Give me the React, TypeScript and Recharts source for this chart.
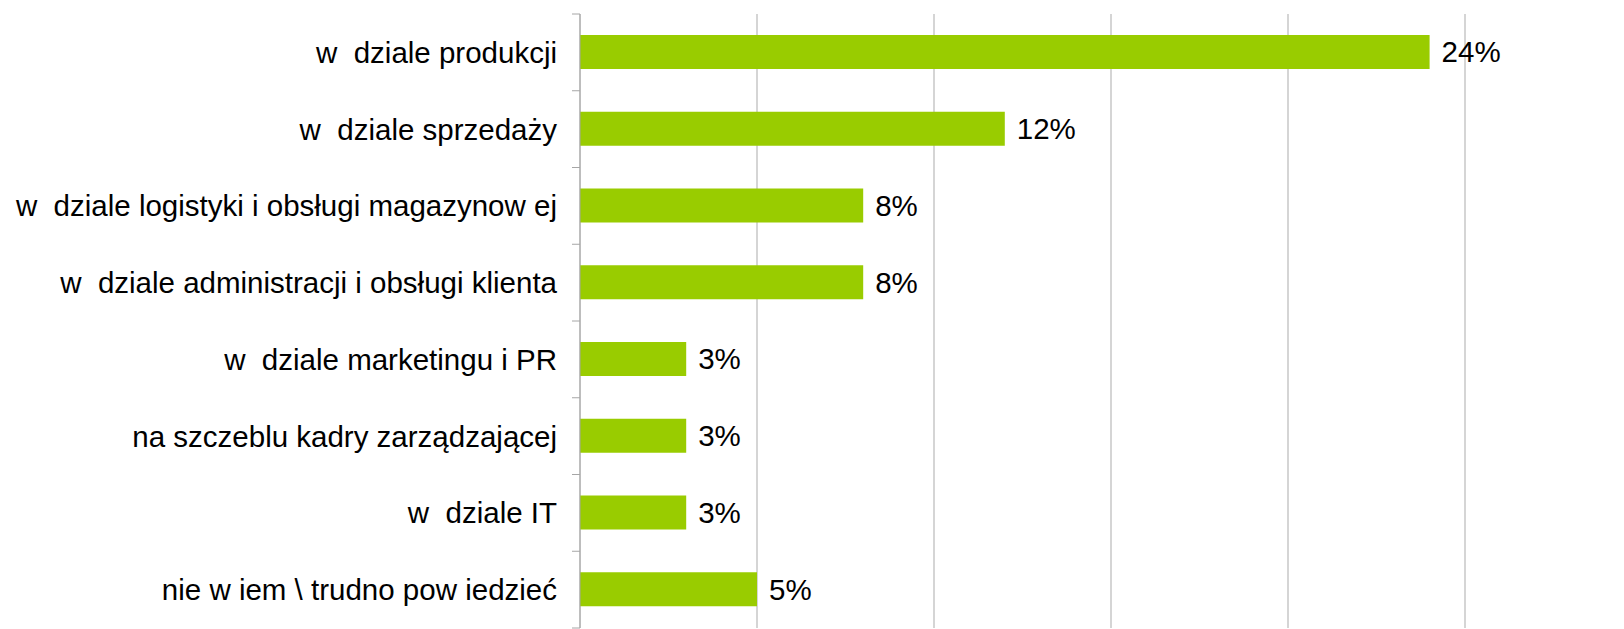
import React from "react";
import { BarChart, Bar, XAxis, YAxis, CartesianGrid, LabelList } from "recharts";

const categories = [
  "w  dziale produkcji",
  "w  dziale sprzedaży",
  "w  dziale logistyki i obsługi magazynow ej",
  "w  dziale administracji i obsługi klienta",
  "w  dziale marketingu i PR",
  "na szczeblu kadry zarządzającej",
  "w  dziale IT",
  "nie w iem \\ trudno pow iedzieć",
];
const values = [24, 12, 8, 8, 3, 3, 3, 5];
const xTicks = [0, 5, 10, 15, 20, 25];

const data = categories.map((name, i) => ({ name, value: values[i] }));

const FONT = "'Liberation Sans', Arial, sans-serif";
const AXIS_COLOR = "#a6a6a6";

const CatTick = (props: any) => {
  const { x, y, payload, index, visibleTicksCount } = props;
  const half = payload && payload.offset ? payload.offset : 38.3;
  const last = index === (visibleTicksCount ?? categories.length) - 1;
  return (
    <g>
      <text
        x={x}
        y={y}
        textAnchor="end"
        dominantBaseline="central"
        fill="#000"
        fontSize={29.5}
        fontFamily={FONT}
        style={{ whiteSpace: "pre" }}
      >
        {payload.value}
      </text>
      <line x1={x + 15} x2={x + 23} y1={y - half} y2={y - half} stroke={AXIS_COLOR} strokeWidth={1} />
      {last && (
        <line x1={x + 15} x2={x + 23} y1={y + half} y2={y + half} stroke={AXIS_COLOR} strokeWidth={1} />
      )}
    </g>
  );
};

export default function App() {
  return (
    <div style={{ width: 1616, height: 621 }}>
      <BarChart
        width={1616}
        height={621}
        data={data}
        layout="vertical"
        margin={{ top: 6, right: 159, bottom: 1, left: 0 }}
      >
        <CartesianGrid horizontal={false} vertical={true} stroke="#ababab" strokeWidth={1} />
        <XAxis type="number" domain={[0, 25]} ticks={xTicks} hide />
        <YAxis
          type="category"
          dataKey="name"
          width={572}
          axisLine={{ stroke: AXIS_COLOR, strokeWidth: 1 }}
          tickLine={false}
          tickSize={8}
          tickMargin={15}
          tick={<CatTick />}
          interval={0}
        />
        <Bar dataKey="value" fill="#99cc00" barSize={34} isAnimationActive={false}>
          <LabelList
            dataKey="value"
            position="right"
            offset={12}
            formatter={(v: any) => `${v}%`}
            style={{ fontSize: 29.5, fontFamily: FONT, fill: "#000" }}
          />
        </Bar>
      </BarChart>
    </div>
  );
}
